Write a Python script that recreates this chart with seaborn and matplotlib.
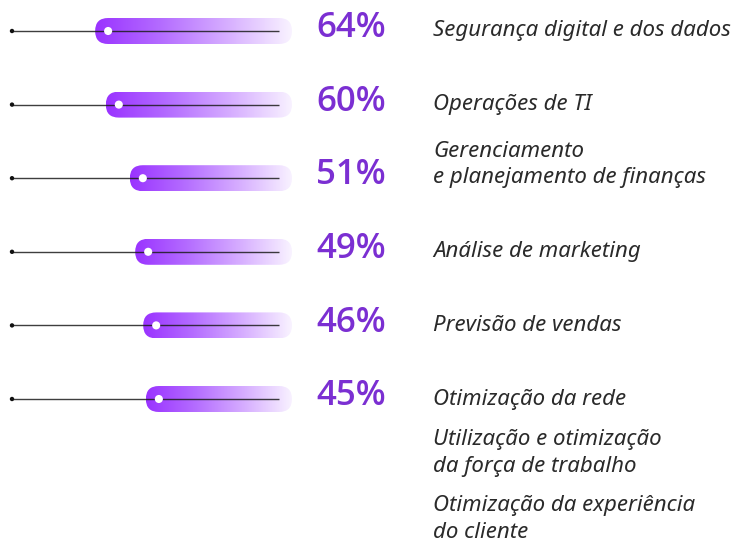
import numpy as np
import matplotlib
matplotlib.use("Agg")
import matplotlib.pyplot as plt
import matplotlib.transforms as mtransforms
from matplotlib.colors import LinearSegmentedColormap
from matplotlib.patches import FancyBboxPatch
import seaborn as sns
import pandas as pd

# data
values = [64, 60, 51, 49, 46, 45]
pct_labels = ["64%", "60%", "51%", "49%", "46%", "45%"]
categories = [
    "Segurança digital e dos dados",
    "Operações de TI",
    "Gerenciamento\ne planejamento de finanças",
    "Análise de marketing",
    "Previsão de vendas",
    "Otimização da rede",
]
extra_labels = [
    "Utilização e otimização\nda força de trabalho",
    "Otimização da experiência\ndo cliente",
]

sns.set_theme(style="white")
plt.rcParams["font.family"] = ["Noto Sans", "DejaVu Sans"]

W, H = 738, 542
fig = plt.figure(figsize=(W / 100, H / 100), dpi=100)
fig.patch.set_facecolor("white")

# scale: 100% sits at px 12, 0% at px 279
px_per_x = 267 / 100
zero_px = 279
left_px, right_px = 4, 300
xlim = ((zero_px - left_px) / px_per_x, (zero_px - right_px) / px_per_x)

row_px = 73.6
top_px = 31 - row_px / 2
bot_px = 399 + row_px / 2
ax = fig.add_axes([left_px / W, 1 - bot_px / H, (right_px - left_px) / W,
                   (bot_px - top_px) / H])
ylim = (len(values) - 0.5, -0.5)

df = pd.DataFrame({"value": values, "row": np.arange(len(values)), "cat": categories})

r_px = 13
r_x = r_px / px_per_x
half_h = r_px / row_px
aspect = px_per_x / row_px

cmap = LinearSegmentedColormap.from_list(
    "pill", ["#9a33ff", "#b46cff", "#d6adff", "#f9f3ff"])
grad = np.linspace(0, 1, 256).reshape(1, -1)

for v, row in zip(df["value"], df["row"]):
    x0 = v + r_x
    x1 = -r_x
    patch = FancyBboxPatch((x1, row - half_h), x0 - x1, 2 * half_h,
                           boxstyle=f"round,pad=0,rounding_size={r_x}",
                           mutation_aspect=aspect, transform=ax.transData,
                           facecolor="none", edgecolor="none")
    ax.add_patch(patch)
    im = ax.imshow(grad, cmap=cmap, aspect="auto", interpolation="bicubic",
                   extent=[x0, x1, row + half_h, row - half_h], zorder=1)
    im.set_clip_path(patch)

# track lines from 100% to 0%
ax.hlines(df["row"], 100, 0, color="#1c1c1c", lw=1.0, alpha=0.85, zorder=2)

sns.scatterplot(x=[100] * len(values), y=df["row"], ax=ax, color="#111111",
                s=10, edgecolor="none", zorder=3, legend=False)
sns.scatterplot(data=df, x="value", y="row", ax=ax, color="white",
                s=34, edgecolor="none", zorder=4, legend=False)
ax.set_xlim(*xlim)
ax.set_ylim(*ylim)
ax.axis("off")

# texts
blend = mtransforms.blended_transform_factory(fig.transFigure, ax.transData)
for row, p in enumerate(pct_labels):
    t = mtransforms.offset_copy(blend, fig=fig, x=0, y=2, units="points")
    fig.text(386 / W, row, p, transform=t, ha="right", va="center",
             fontsize=25, fontweight="semibold", color="#7b2fd2",
             family=["Open Sans", "DejaVu Sans"])

for row, c in enumerate(categories):
    off = 0
    if "\n" in c:
        off = -14
    t = mtransforms.offset_copy(blend, fig=fig, x=0, y=-off * 0.72, units="points")
    fig.text(433 / W, row, c, transform=t, ha="left", va="center",
             fontsize=16, fontstyle="italic", color="#2a2a2a", linespacing=1.32)

for i, c in enumerate(extra_labels):
    dy = 54 + i * 66
    t = mtransforms.offset_copy(blend, fig=fig, x=0, y=-dy * 0.72, units="points")
    fig.text(433 / W, len(values) - 1, c, transform=t, ha="left", va="center",
             fontsize=16, fontstyle="italic", color="#2a2a2a", linespacing=1.32)

fig.savefig("out.png", dpi=100, facecolor="white")
